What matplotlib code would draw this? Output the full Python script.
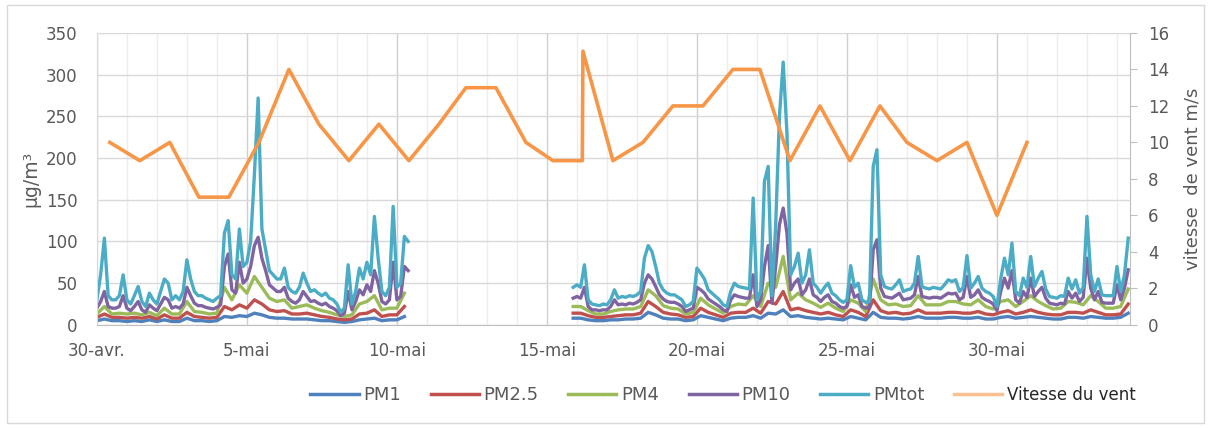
import numpy as np
import matplotlib.pyplot as plt
from matplotlib.lines import Line2D
from matplotlib.patches import Rectangle

plt.rcParams['font.family'] = ['DejaVu Sans']

# x axis: days since 30 April
date_ticks = [0, 5, 10, 15, 20, 25, 30]
date_labels = ["30-avr.", "5-mai", "10-mai", "15-mai", "20-mai", "25-mai", "30-mai"]

# particle data, first campaign period (3 h steps for PMtot / PM10, 6 h steps for the others)
seg1_start = 0.0
pmtot_1 = [30, 60, 104, 35, 30, 30, 35, 60, 30, 25,
           35, 46, 28, 22, 38, 30, 25, 40, 55, 50,
           30, 35, 30, 40, 78, 55, 40, 35, 35, 32,
           30, 28, 32, 35, 110, 125, 60, 55, 115, 70,
           75, 100, 180, 272, 115, 90, 65, 60, 55, 55,
           68, 45, 40, 38, 45, 62, 50, 40, 42, 38,
           35, 38, 32, 30, 25, 15, 20, 72, 25, 40,
           68, 55, 75, 60, 130, 80, 40, 35, 45, 142,
           45, 50, 106, 100]
pm10_1 = [20, 28, 40, 22, 20, 20, 22, 35, 20, 17,
          22, 28, 18, 15, 24, 20, 17, 25, 33, 30,
          20, 22, 20, 25, 45, 35, 26, 23, 23, 21,
          20, 19, 21, 24, 70, 85, 42, 38, 75, 50,
          55, 70, 95, 105, 80, 65, 48, 44, 40, 40,
          45, 32, 28, 26, 30, 40, 34, 28, 29, 26,
          24, 26, 22, 20, 17, 11, 14, 40, 18, 28,
          42, 36, 48, 40, 65, 50, 28, 25, 30, 75,
          30, 34, 70, 65]
pm4_1 = [13, 22, 13, 14, 13, 14, 12, 15, 11, 20,
         13, 13, 28, 16, 15, 13, 14, 45, 30, 48,
         38, 58, 45, 32, 28, 30, 20, 22, 24, 20,
         17, 15, 12, 10, 12, 25, 28, 35, 18, 20,
         20, 38]
pm25_1 = [9, 13, 9, 9, 8, 9, 8, 10, 7, 12,
          8, 8, 15, 10, 9, 8, 9, 22, 18, 24,
          20, 30, 25, 18, 16, 17, 13, 13, 14, 12,
          10, 9, 7, 6, 7, 13, 14, 18, 10, 12,
          12, 22]
pm1_1 = [5, 7, 5, 5, 4, 5, 4, 6, 4, 6,
         4, 4, 8, 5, 5, 4, 5, 10, 9, 11,
         10, 14, 12, 9, 8, 8, 7, 7, 7, 6,
         5, 5, 4, 3, 4, 6, 7, 8, 5, 6,
         6, 10]

# second period
seg2_start = 15.875
pmtot_2 = [45,
           48, 45, 72, 30, 25, 24, 23, 25,
           24, 30, 42, 32, 34, 33, 35, 34,
           36, 40, 80, 95, 88, 70, 50, 42,
           38, 36, 36, 33, 30, 22, 24, 28,
           68, 62, 55, 42, 38, 34, 30, 24,
           22, 40, 50, 46, 45, 44, 43, 152,
           30, 40, 172, 190, 35, 120, 250, 315,
           230, 60, 70, 86, 50, 60, 90, 50,
           45, 38, 45, 50, 38, 35, 30, 27,
           30, 71, 45, 50, 30, 27, 28, 190,
           210, 60, 46, 44, 43, 48, 54, 40,
           42, 43, 50, 82, 46, 44, 43, 45,
           44, 43, 48, 54, 52, 54, 40, 45,
           83, 44, 50, 58, 44, 40, 38, 34,
           22, 55, 80, 60, 98, 40, 35, 56,
           45, 82, 46, 56, 64, 43, 34, 33,
           32, 35, 34, 56, 43, 54, 38, 45,
           130, 60, 40, 55, 36, 35, 35, 35,
           70, 40, 60, 104]
pm10_2 = [32,
          34, 32, 45, 22, 18, 18, 17, 18,
          18, 22, 30, 24, 25, 24, 26, 25,
          27, 30, 50, 60, 55, 46, 36, 31,
          28, 27, 27, 25, 22, 16, 18, 20,
          45, 42, 38, 31, 28, 25, 22, 18,
          16, 30, 36, 34, 33, 32, 32, 60,
          22, 30, 70, 95, 26, 70, 120, 140,
          110, 42, 50, 55, 36, 42, 55, 36,
          33, 28, 33, 36, 28, 26, 22, 20,
          22, 48, 33, 36, 22, 20, 21, 90,
          102, 44, 34, 33, 32, 35, 38, 30,
          31, 32, 36, 58, 34, 33, 32, 33,
          33, 32, 35, 38, 37, 38, 30, 33,
          58, 33, 36, 42, 33, 30, 28, 25,
          17, 40, 56, 44, 65, 30, 26, 40,
          33, 56, 34, 40, 45, 32, 26, 25,
          24, 26, 25, 40, 32, 38, 28, 33,
          80, 44, 30, 40, 27, 26, 26, 26,
          48, 30, 44, 66]
pm4_2 = [22,
         22, 17, 13, 13, 16, 18, 19, 19, 22, 42, 35, 23,
         20, 19, 13, 15, 32, 24, 19, 14, 22, 25, 24, 35,
         22, 50, 45, 82, 30, 38, 30, 26, 21, 26, 20, 16,
         30, 26, 16, 55, 30, 24, 25, 22, 23, 35, 24, 24,
         24, 28, 28, 25, 24, 30, 22, 19, 28, 30, 22, 28,
         35, 28, 23, 19, 20, 28, 27, 24, 35, 28, 20, 20,
         22, 43]
pm25_2 = [14,
          14, 11, 9, 9, 10, 11, 12, 12, 14, 28, 22, 15,
          13, 12, 9, 10, 20, 15, 12, 9, 14, 15, 15, 20,
          14, 28, 25, 40, 18, 20, 17, 15, 13, 15, 12, 10,
          18, 15, 10, 30, 17, 14, 15, 13, 14, 18, 14, 14,
          14, 15, 15, 14, 14, 16, 13, 12, 15, 17, 13, 15,
          18, 15, 13, 12, 12, 15, 15, 14, 18, 15, 12, 12,
          13, 25]
pm1_2 = [8,
         8, 6, 5, 5, 6, 6, 7, 7, 8, 15, 12, 8,
         7, 7, 5, 6, 11, 9, 7, 5, 8, 9, 9, 11,
         8, 14, 13, 18, 10, 11, 9, 8, 7, 8, 7, 6,
         10, 8, 6, 15, 9, 8, 8, 7, 8, 10, 8, 8,
         8, 9, 9, 8, 8, 9, 7, 7, 9, 10, 8, 9,
         10, 9, 8, 7, 7, 9, 9, 8, 10, 9, 8, 8,
         9, 14]

# daily wind speed (m/s)
wind_day = [0.43, 1.43, 2.43, 3.4, 4.4, 5.4, 6.4, 7.4, 8.4, 9.4, 10.4,
            11.4, 12.3, 13.3, 14.3, 15.2, 16.18, 16.2, 17.2, 18.2, 19.2,
            20.2, 21.2, 22.1, 23.1, 24.1, 25.1, 26.1, 27.0, 28.0, 29.0,
            30.0, 31.0]
wind_speed = [10, 9, 10, 7, 7, 10, 14, 11, 9, 11, 9,
              11, 13, 13, 10, 9, 9, 15, 9, 10, 12,
              12, 14, 14, 9, 12, 9, 12, 10, 9, 10,
              6, 10]

names = ["PM1", "PM2.5", "PM4", "PM10", "PMtot"]
colors = ["#4F81BD", "#C0504D", "#9BBB59", "#8064A2", "#4BACC6"]
series = [(pm1_1, pm1_2, 0.25), (pm25_1, pm25_2, 0.25), (pm4_1, pm4_2, 0.25),
          (pm10_1, pm10_2, 0.125), (pmtot_1, pmtot_2, 0.125)]
wind_color = "#F79646"
grey_txt = "#595959"

fig = plt.figure(figsize=(12.11, 4.28), dpi=100)
ax = fig.add_axes([0.080, 0.241, 0.853, 0.682])

for (v1, v2, step), c in zip(series, colors):
    for start, vals in ((seg1_start, v1), (seg2_start, v2)):
        t = start + step * np.arange(len(vals))
        ax.plot(t, vals, color=c, lw=2.4, solid_joinstyle="round")

ax.set_xlim(0, 34.43)
ax.set_ylim(0, 350)
ax.set_yticks(np.arange(0, 351, 50))
ax.set_xticks(date_ticks)
ax.set_xticklabels(date_labels)
ax.set_xticks(np.arange(0, 35, 1), minor=True)
ax.grid(axis="y", color="#D9D9D9", lw=1)
ax.grid(axis="x", which="major", color="#CFCFCF", lw=1)
ax.grid(axis="x", which="minor", color="#EDEDED", lw=1)
ax.set_axisbelow(True)
ax.tick_params(axis="both", which="both", length=0, labelsize=12, labelcolor=grey_txt)
ax.tick_params(axis="y", pad=14)
ax.tick_params(axis="x", pad=12)
for s in ["top", "right"]:
    ax.spines[s].set_visible(False)
ax.spines["left"].set_color("#D9D9D9")
ax.spines["bottom"].set_color("#BFBFBF")
ax.set_ylabel("µg/m³", fontsize=13.5, color=grey_txt, labelpad=4)

ax2 = ax.twinx()
ax2.plot(wind_day, wind_speed, color=wind_color, lw=2.6)
ax2.set_ylim(0, 16)
ax2.set_yticks(np.arange(0, 17, 2))
ax2.tick_params(axis="y", length=5, color="#BFBFBF", labelsize=12, labelcolor=grey_txt, pad=8)
for s in ["top", "left", "bottom"]:
    ax2.spines[s].set_visible(False)
ax2.spines["right"].set_color("#BFBFBF")
ax2.set_ylabel("vitesse  de vent m/s", fontsize=13, color=grey_txt, labelpad=10)

handles = [Line2D([], [], color=c, lw=2.5) for c in colors]
handles.append(Line2D([], [], color="#FAC090", lw=2.5))
leg = fig.legend(handles, names + ["Vitesse du vent"], loc="center", ncol=6,
                 bbox_to_anchor=(0.597, 0.077), frameon=False, fontsize=13,
                 handlelength=2.67, handletextpad=0.25, columnspacing=1.65)
for txt in leg.get_texts()[:5]:
    txt.set_color(grey_txt)
leg.get_texts()[5].set_color("#262626")
leg.get_texts()[5].set_fontsize(12)

fig.patches.append(Rectangle((0.006, 0.012), 0.988, 0.976, transform=fig.transFigure,
                             fill=False, edgecolor="#D9D9D9", lw=1))

fig.savefig("out.png", dpi=100)
